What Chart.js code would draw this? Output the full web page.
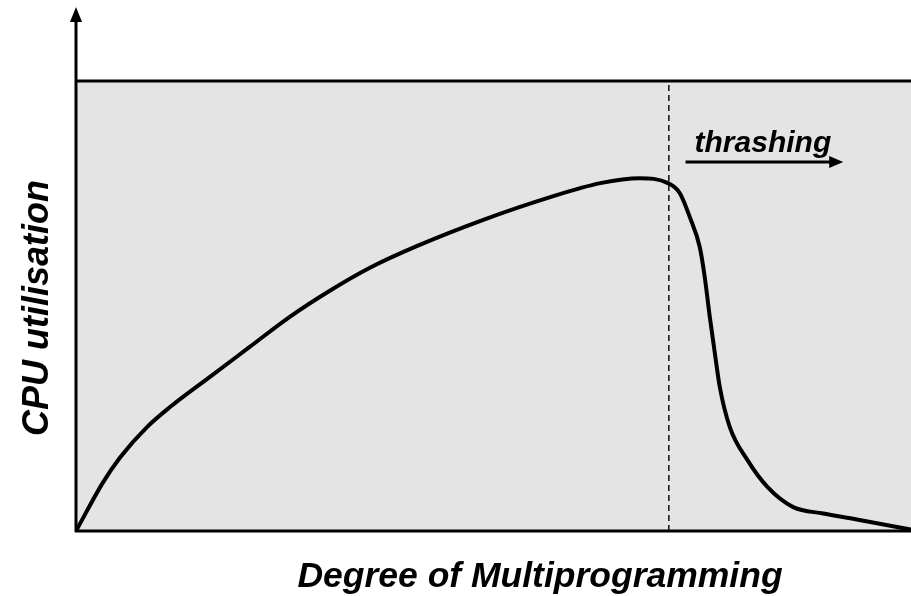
<!DOCTYPE html>
<html>
<head>
<meta charset="utf-8">
<script src="https://cdn.jsdelivr.net/npm/chart.js@4.4.1/dist/chart.umd.min.js"></script>
<style>
  html, body { margin: 0; padding: 0; background: #fff; }
  #wrap { width: 911px; height: 596px; }
</style>
</head>
<body>
<div id="wrap"><canvas id="myChart"></canvas></div>
<script>
// degree of multiprogramming (x) vs CPU utilisation (y), both 0..100
const degree = [0, 3.2, 5.3, 8.5, 11.3, 16.0, 20.8, 25.6, 30.4, 35.2, 40.8, 48.7, 56.8, 62.8, 67.5,
  70.9, 72.3, 73.5, 74.7, 75.3, 75.9, 76.5, 77.1, 78.3, 80.4, 82.8, 85.9, 89.5, 94.0, 100];
const utilisation = [0, 10.7, 16.4, 23.1, 27.6, 34.2, 40.9, 47.6, 53.4, 58.5, 63.3, 69.1, 74.2, 77.3, 78.4,
  77.3, 75.1, 69.8, 63.1, 56.4, 47.6, 39.6, 32.0, 23.1, 15.8, 9.8, 5.3, 3.9, 2.4, 0.3];
const thrashStart = 71;
const thrashArrow = [73, 92];
const thrashLevel = 82;

const xTitle = 'Degree of Multiprogramming';
const yTitle = 'CPU utilisation';
const thrashLabel = 'thrashing';

const ctx = document.getElementById('myChart').getContext('2d');

const curve = degree.map((x, i) => ({ x: x, y: utilisation[i] }));

const decorations = {
  id: 'decorations',
  beforeDatasetsDraw(chart) {
    const {ctx, chartArea: {left, right, top, bottom}} = chart;
    ctx.save();
    ctx.fillStyle = '#e4e4e4';
    ctx.fillRect(left, top, right - left, bottom - top);
    ctx.restore();
  },
  afterDraw(chart) {
    const {ctx, chartArea: {left, right, top, bottom}, scales: {x, y}} = chart;
    ctx.save();
    ctx.strokeStyle = '#000';
    ctx.fillStyle = '#000';
    ctx.lineWidth = 3;

    // top border of the grey area
    ctx.beginPath();
    ctx.moveTo(left, top);
    ctx.lineTo(right, top);
    ctx.stroke();

    // x axis
    ctx.beginPath();
    ctx.moveTo(left - 1, bottom);
    ctx.lineTo(right, bottom);
    ctx.stroke();

    // y axis with arrow
    ctx.beginPath();
    ctx.moveTo(left, bottom + 1);
    ctx.lineTo(left, 20);
    ctx.stroke();
    ctx.beginPath();
    ctx.moveTo(left, 7);
    ctx.lineTo(left - 6, 22);
    ctx.lineTo(left + 6, 22);
    ctx.closePath();
    ctx.fill();

    // thrashing arrow
    const ay = y.getPixelForValue(thrashLevel);
    const ax0 = x.getPixelForValue(thrashArrow[0]);
    const ax1 = x.getPixelForValue(thrashArrow[1]);
    ctx.lineWidth = 3;
    ctx.beginPath();
    ctx.moveTo(ax0, ay);
    ctx.lineTo(ax1 - 12, ay);
    ctx.stroke();
    ctx.beginPath();
    ctx.moveTo(ax1 - 1, ay);
    ctx.lineTo(ax1 - 15, ay - 6);
    ctx.lineTo(ax1 - 15, ay + 6);
    ctx.closePath();
    ctx.fill();

    ctx.font = 'italic bold 30px "Liberation Sans", Arial, sans-serif';
    ctx.textAlign = 'left';
    ctx.textBaseline = 'alphabetic';
    ctx.fillText(thrashLabel, ax0 + 9, ay - 10);

    // axis titles
    ctx.font = 'italic bold 35.5px "Liberation Sans", Arial, sans-serif';
    ctx.textAlign = 'center';
    ctx.fillText(xTitle, 540, 587);

    ctx.font = 'italic bold 36px "Liberation Sans", Arial, sans-serif';
    ctx.translate(48, 308);
    ctx.rotate(-Math.PI / 2);
    ctx.fillText(yTitle, 0, 0);
    ctx.restore();
  }
};

const data = {
  datasets: [
    {
      label: 'CPU utilisation',
      data: curve,
      borderColor: '#000',
      borderWidth: 4,
      pointRadius: 0,
      cubicInterpolationMode: 'monotone',
      fill: false
    },
    {
      label: 'thrashing onset',
      data: [{ x: thrashStart, y: 0 }, { x: thrashStart, y: 100 }],
      borderColor: '#111',
      borderWidth: 1.5,
      borderDash: [6, 4],
      pointRadius: 0,
      fill: false
    }
  ]
};

const config = {
  type: 'line',
  data: data,
  options: {
    responsive: true,
    maintainAspectRatio: false,
    animation: false,
    layout: {
      padding: { top: 81, left: 0, right: 0, bottom: 0 }
    },
    plugins: {
      legend: { display: false },
      tooltip: { enabled: false }
    },
    scales: {
      x: {
        type: 'linear',
        min: 0,
        max: 100,
        ticks: { display: false },
        grid: { display: false },
        border: { display: false },
        afterFit(scale) { scale.height = 65; }
      },
      y: {
        min: 0,
        max: 100,
        ticks: { display: false },
        grid: { display: false },
        border: { display: false },
        afterFit(scale) { scale.width = 76; }
      }
    }
  },
  plugins: [decorations]
};

const myChart = new Chart(ctx, config);
</script>
</body>
</html>
